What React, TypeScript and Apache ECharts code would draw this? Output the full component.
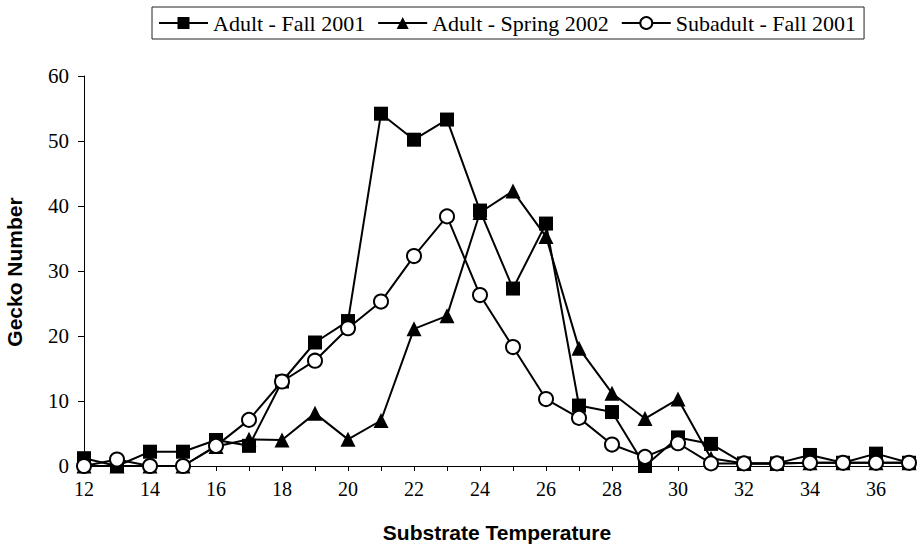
import React, { useEffect, useRef } from "react";
import * as echarts from "echarts";

const temperatures = ["12","13","14","15","16","17","18","19","20","21","22","23","24","25","26","27","28","29","30","31","32","33","34","35","36","37"];
const adultFall2001 = [1.2, 0, 2.2, 2.2, 4, 3.1, 13, 19, 22.3, 54.2, 50.2, 53.3, 39.3, 27.3, 37.3, 9.3, 8.3, 0, 4.4, 3.4, 0.4, 0.4, 1.7, 0.5, 1.9, 0.5];
const adultSpring2002 = [0, 0, 0, 0, 3, 4.1, 4, 8.1, 4.1, 7, 21.1, 23.1, 39, 42.3, 35.3, 18.1, 11.2, 7.3, 10.3, 1.2, 0.4, 0.4, 0.5, 0.5, 0.5, 0.5];
const subadultFall2001 = [0, 1, 0, 0, 3.1, 7.1, 13, 16.2, 21.2, 25.3, 32.3, 38.4, 26.3, 18.3, 10.3, 7.4, 3.3, 1.4, 3.5, 0.4, 0.4, 0.4, 0.5, 0.5, 0.5, 0.5];
const seriesNames = ["Adult - Fall 2001", "Adult - Spring 2002", "Subadult - Fall 2001"];
const yTicks = { min: 0, max: 60, interval: 10 };

export default function App() {
  const ref = useRef<HTMLDivElement>(null);
  useEffect(() => {
    if (!ref.current) return;
    const chart = echarts.init(ref.current, null, { renderer: "svg" });
    const serif = "'Liberation Serif', 'Times New Roman', serif";
    const sans = "'Liberation Sans', Arial, sans-serif";
    const lineStyle = { color: "#000", width: 2 };
    chart.setOption({
      animation: false,
      backgroundColor: "#fff",
      legend: {
        left: 152,
        top: 7,
        padding: [5, 8, 5, 6],
        itemWidth: 49,
        itemHeight: 15,
        itemGap: 12,
        borderColor: "#222",
        borderWidth: 1,
        textStyle: { fontSize: 22, fontFamily: serif, color: "#000" },
        data: seriesNames,
      },
      grid: { left: 84, right: 15, top: 76, bottom: 82 },
      xAxis: {
        type: "category",
        data: temperatures,
        boundaryGap: false,
        axisLine: { lineStyle: { color: "#000", width: 1 } },
        axisTick: { interval: 0, length: 5, lineStyle: { color: "#000" } },
        axisLabel: { interval: 1, margin: 13, fontSize: 20, fontFamily: serif, color: "#000" },
        splitLine: { show: false },
      },
      yAxis: {
        type: "value",
        min: yTicks.min,
        max: yTicks.max,
        interval: yTicks.interval,
        axisLine: { show: true, lineStyle: { color: "#000", width: 1 } },
        axisTick: { show: true, length: 6, lineStyle: { color: "#000" } },
        axisLabel: { margin: 15, fontSize: 21, fontFamily: serif, color: "#000" },
        splitLine: { show: false },
      },
      graphic: [
        {
          type: "text",
          x: 14,
          y: 272,
          rotation: Math.PI / 2,
          style: {
            text: "Gecko Number",
            font: `bold 21px ${sans}`,
            fill: "#000",
            align: "center",
            verticalAlign: "middle",
          },
        },
        {
          type: "text",
          x: 497,
          y: 532,
          style: {
            text: "Substrate Temperature",
            font: `bold 21px ${sans}`,
            fill: "#000",
            align: "center",
            verticalAlign: "middle",
          },
        },
      ],
      series: [
        {
          name: seriesNames[0],
          type: "line",
          data: adultFall2001,
          symbol: "rect",
          symbolSize: 14,
          lineStyle,
          itemStyle: { color: "#000" },
        },
        {
          name: seriesNames[1],
          type: "line",
          data: adultSpring2002,
          symbol: "triangle",
          symbolSize: 15,
          lineStyle,
          itemStyle: { color: "#000" },
        },
        {
          name: seriesNames[2],
          type: "line",
          data: subadultFall2001,
          symbol: "circle",
          symbolSize: 14,
          lineStyle,
          itemStyle: { color: "#fff", borderColor: "#000", borderWidth: 2 },
        },
      ],
    });
    return () => chart.dispose();
  }, []);
  return <div ref={ref} style={{ width: 924, height: 548, position: "absolute", left: 0, top: 0 }} />;
}
